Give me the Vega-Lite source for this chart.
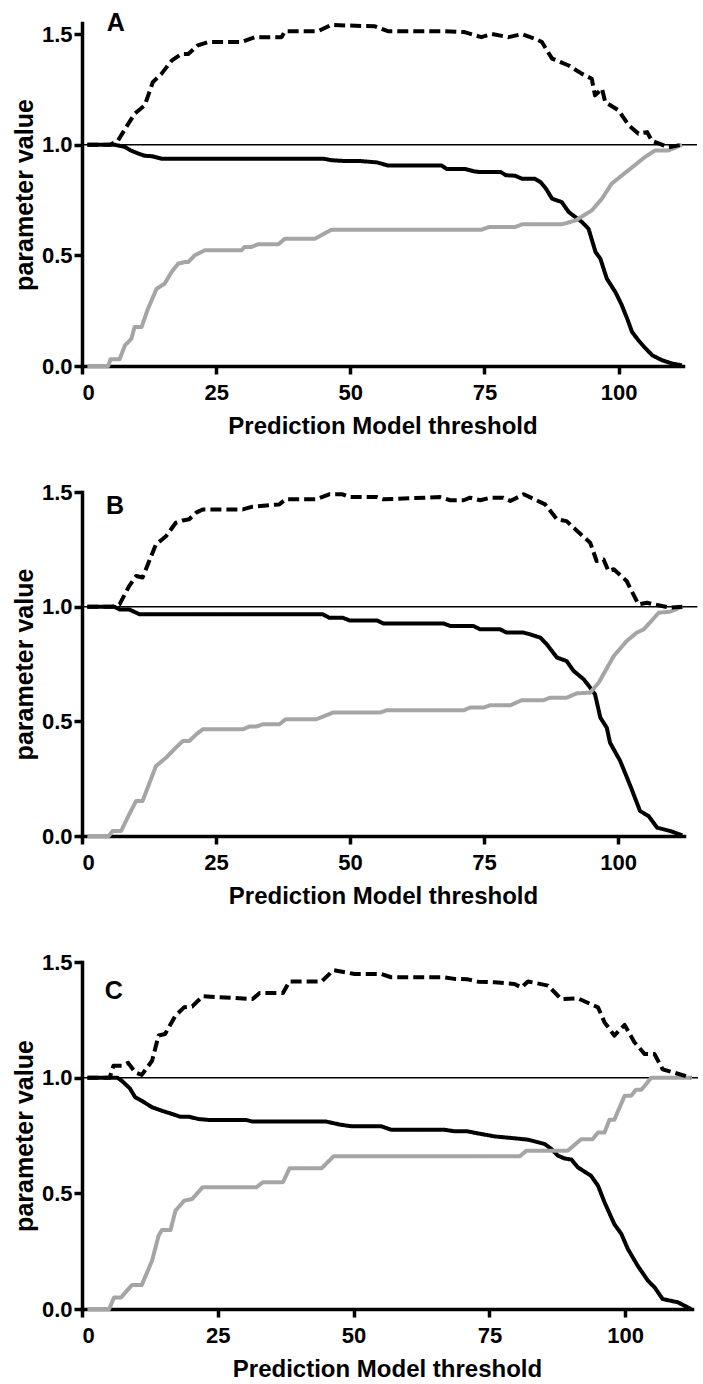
{
  "$schema": "https://vega.github.io/schema/vega-lite/v6.json",
  "background": "white",
  "padding": {"left": 12, "top": 10, "right": 0, "bottom": 0},
  "spacing": 126,
  "bounds": "flush",
  "datasets": {
    "lines": [
      {"p":"A","s":"sensitivity","x":1,"y":1},{"p":"A","s":"sensitivity","x":6,"y":1},{"p":"A","s":"sensitivity","x":7,"y":0.995},{"p":"A","s":"sensitivity","x":8,"y":0.99},{"p":"A","s":"sensitivity","x":9,"y":0.975},{"p":"A","s":"sensitivity","x":10.5,"y":0.96},{"p":"A","s":"sensitivity","x":11.7,"y":0.95},{"p":"A","s":"sensitivity","x":13,"y":0.948},{"p":"A","s":"sensitivity","x":14.8,"y":0.937},{"p":"A","s":"sensitivity","x":45,"y":0.937},{"p":"A","s":"sensitivity","x":46.5,"y":0.93},{"p":"A","s":"sensitivity","x":49,"y":0.926},{"p":"A","s":"sensitivity","x":52,"y":0.926},{"p":"A","s":"sensitivity","x":55,"y":0.92},{"p":"A","s":"sensitivity","x":57,"y":0.906},{"p":"A","s":"sensitivity","x":67,"y":0.906},{"p":"A","s":"sensitivity","x":68,"y":0.89},{"p":"A","s":"sensitivity","x":71.4,"y":0.89},{"p":"A","s":"sensitivity","x":73,"y":0.88},{"p":"A","s":"sensitivity","x":74,"y":0.877},{"p":"A","s":"sensitivity","x":78,"y":0.877},{"p":"A","s":"sensitivity","x":79,"y":0.862},{"p":"A","s":"sensitivity","x":80.7,"y":0.86},{"p":"A","s":"sensitivity","x":82,"y":0.846},{"p":"A","s":"sensitivity","x":84.4,"y":0.846},{"p":"A","s":"sensitivity","x":85.5,"y":0.83},{"p":"A","s":"sensitivity","x":86.5,"y":0.8},{"p":"A","s":"sensitivity","x":87.6,"y":0.756},{"p":"A","s":"sensitivity","x":89.4,"y":0.741},{"p":"A","s":"sensitivity","x":90.7,"y":0.696},{"p":"A","s":"sensitivity","x":93.2,"y":0.65},{"p":"A","s":"sensitivity","x":94.4,"y":0.62},{"p":"A","s":"sensitivity","x":95.7,"y":0.515},{"p":"A","s":"sensitivity","x":96.6,"y":0.485},{"p":"A","s":"sensitivity","x":97.8,"y":0.395},{"p":"A","s":"sensitivity","x":99.4,"y":0.334},{"p":"A","s":"sensitivity","x":100.5,"y":0.28},{"p":"A","s":"sensitivity","x":101.6,"y":0.214},{"p":"A","s":"sensitivity","x":102.5,"y":0.154},{"p":"A","s":"sensitivity","x":103.7,"y":0.116},{"p":"A","s":"sensitivity","x":105,"y":0.08},{"p":"A","s":"sensitivity","x":106.3,"y":0.048},{"p":"A","s":"sensitivity","x":108.1,"y":0.026},{"p":"A","s":"sensitivity","x":110,"y":0.011},{"p":"A","s":"sensitivity","x":111.8,"y":0.003},
      {"p":"A","s":"specificity","x":1,"y":0},{"p":"A","s":"specificity","x":4.9,"y":0},{"p":"A","s":"specificity","x":5.3,"y":0.03},{"p":"A","s":"specificity","x":7,"y":0.03},{"p":"A","s":"specificity","x":8,"y":0.093},{"p":"A","s":"specificity","x":9.2,"y":0.123},{"p":"A","s":"specificity","x":9.8,"y":0.176},{"p":"A","s":"specificity","x":11.1,"y":0.176},{"p":"A","s":"specificity","x":12.3,"y":0.259},{"p":"A","s":"specificity","x":13.9,"y":0.349},{"p":"A","s":"specificity","x":15.4,"y":0.372},{"p":"A","s":"specificity","x":16.7,"y":0.425},{"p":"A","s":"specificity","x":17.9,"y":0.462},{"p":"A","s":"specificity","x":19.2,"y":0.47},{"p":"A","s":"specificity","x":19.8,"y":0.47},{"p":"A","s":"specificity","x":21,"y":0.5},{"p":"A","s":"specificity","x":22.9,"y":0.523},{"p":"A","s":"specificity","x":29.7,"y":0.523},{"p":"A","s":"specificity","x":30.3,"y":0.538},{"p":"A","s":"specificity","x":31.6,"y":0.538},{"p":"A","s":"specificity","x":32.8,"y":0.55},{"p":"A","s":"specificity","x":36.6,"y":0.55},{"p":"A","s":"specificity","x":37.8,"y":0.575},{"p":"A","s":"specificity","x":43.4,"y":0.575},{"p":"A","s":"specificity","x":46.5,"y":0.616},{"p":"A","s":"specificity","x":74.5,"y":0.616},{"p":"A","s":"specificity","x":75.8,"y":0.628},{"p":"A","s":"specificity","x":80.7,"y":0.628},{"p":"A","s":"specificity","x":82,"y":0.64},{"p":"A","s":"specificity","x":89.4,"y":0.64},{"p":"A","s":"specificity","x":92,"y":0.658},{"p":"A","s":"specificity","x":95,"y":0.703},{"p":"A","s":"specificity","x":96.9,"y":0.756},{"p":"A","s":"specificity","x":98.7,"y":0.824},{"p":"A","s":"specificity","x":100.6,"y":0.861},{"p":"A","s":"specificity","x":103,"y":0.907},{"p":"A","s":"specificity","x":104.9,"y":0.944},{"p":"A","s":"specificity","x":106.8,"y":0.974},{"p":"A","s":"specificity","x":109.3,"y":0.974},{"p":"A","s":"specificity","x":111.8,"y":1.0},
      {"p":"A","s":"sum","x":1,"y":1},{"p":"A","s":"sum","x":5.2,"y":1.0},{"p":"A","s":"sum","x":6.7,"y":1.018},{"p":"A","s":"sum","x":8,"y":1.07},{"p":"A","s":"sum","x":9.8,"y":1.14},{"p":"A","s":"sum","x":11.7,"y":1.178},{"p":"A","s":"sum","x":13.2,"y":1.283},{"p":"A","s":"sum","x":14.8,"y":1.32},{"p":"A","s":"sum","x":16.7,"y":1.38},{"p":"A","s":"sum","x":18.5,"y":1.41},{"p":"A","s":"sum","x":19.8,"y":1.41},{"p":"A","s":"sum","x":21.6,"y":1.449},{"p":"A","s":"sum","x":23.5,"y":1.464},{"p":"A","s":"sum","x":29.7,"y":1.464},{"p":"A","s":"sum","x":32.2,"y":1.486},{"p":"A","s":"sum","x":37.2,"y":1.486},{"p":"A","s":"sum","x":37.8,"y":1.513},{"p":"A","s":"sum","x":44,"y":1.513},{"p":"A","s":"sum","x":46.5,"y":1.542},{"p":"A","s":"sum","x":49,"y":1.539},{"p":"A","s":"sum","x":54.6,"y":1.535},{"p":"A","s":"sum","x":57,"y":1.513},{"p":"A","s":"sum","x":67.6,"y":1.513},{"p":"A","s":"sum","x":71.3,"y":1.509},{"p":"A","s":"sum","x":74.4,"y":1.486},{"p":"A","s":"sum","x":76.4,"y":1.5},{"p":"A","s":"sum","x":79.5,"y":1.486},{"p":"A","s":"sum","x":82,"y":1.5},{"p":"A","s":"sum","x":84.4,"y":1.479},{"p":"A","s":"sum","x":85.7,"y":1.464},{"p":"A","s":"sum","x":87.6,"y":1.389},{"p":"A","s":"sum","x":90.7,"y":1.358},{"p":"A","s":"sum","x":93.2,"y":1.32},{"p":"A","s":"sum","x":95,"y":1.298},{"p":"A","s":"sum","x":95.6,"y":1.223},{"p":"A","s":"sum","x":96.9,"y":1.253},{"p":"A","s":"sum","x":97.5,"y":1.193},{"p":"A","s":"sum","x":100,"y":1.155},{"p":"A","s":"sum","x":101.9,"y":1.087},{"p":"A","s":"sum","x":103.7,"y":1.05},{"p":"A","s":"sum","x":105.3,"y":1.057},{"p":"A","s":"sum","x":106.2,"y":1.018},{"p":"A","s":"sum","x":109.3,"y":0.988},{"p":"A","s":"sum","x":111.8,"y":1.0},

      {"p":"B","s":"sensitivity","x":1,"y":1},{"p":"B","s":"sensitivity","x":6,"y":1},{"p":"B","s":"sensitivity","x":7,"y":0.988},{"p":"B","s":"sensitivity","x":8.8,"y":0.988},{"p":"B","s":"sensitivity","x":10.7,"y":0.967},{"p":"B","s":"sensitivity","x":44.9,"y":0.967},{"p":"B","s":"sensitivity","x":46.1,"y":0.952},{"p":"B","s":"sensitivity","x":48.6,"y":0.952},{"p":"B","s":"sensitivity","x":49.9,"y":0.94},{"p":"B","s":"sensitivity","x":55,"y":0.94},{"p":"B","s":"sensitivity","x":56.2,"y":0.927},{"p":"B","s":"sensitivity","x":67.4,"y":0.927},{"p":"B","s":"sensitivity","x":68.7,"y":0.916},{"p":"B","s":"sensitivity","x":73,"y":0.916},{"p":"B","s":"sensitivity","x":74.3,"y":0.901},{"p":"B","s":"sensitivity","x":78,"y":0.901},{"p":"B","s":"sensitivity","x":79.2,"y":0.887},{"p":"B","s":"sensitivity","x":82.4,"y":0.887},{"p":"B","s":"sensitivity","x":83.6,"y":0.879},{"p":"B","s":"sensitivity","x":85.5,"y":0.865},{"p":"B","s":"sensitivity","x":86.7,"y":0.836},{"p":"B","s":"sensitivity","x":88.6,"y":0.778},{"p":"B","s":"sensitivity","x":90.4,"y":0.763},{"p":"B","s":"sensitivity","x":91.7,"y":0.72},{"p":"B","s":"sensitivity","x":93.6,"y":0.683},{"p":"B","s":"sensitivity","x":94.8,"y":0.647},{"p":"B","s":"sensitivity","x":95.7,"y":0.618},{"p":"B","s":"sensitivity","x":96.7,"y":0.516},{"p":"B","s":"sensitivity","x":97.9,"y":0.472},{"p":"B","s":"sensitivity","x":98.5,"y":0.407},{"p":"B","s":"sensitivity","x":100.4,"y":0.327},{"p":"B","s":"sensitivity","x":102.3,"y":0.218},{"p":"B","s":"sensitivity","x":104.1,"y":0.109},{"p":"B","s":"sensitivity","x":105.7,"y":0.087},{"p":"B","s":"sensitivity","x":107.3,"y":0.036},{"p":"B","s":"sensitivity","x":109.7,"y":0.022},{"p":"B","s":"sensitivity","x":112,"y":0.003},
      {"p":"B","s":"specificity","x":1,"y":0},{"p":"B","s":"specificity","x":5,"y":0},{"p":"B","s":"specificity","x":5.7,"y":0.022},{"p":"B","s":"specificity","x":7.3,"y":0.022},{"p":"B","s":"specificity","x":8.8,"y":0.094},{"p":"B","s":"specificity","x":10.1,"y":0.153},{"p":"B","s":"specificity","x":11.3,"y":0.153},{"p":"B","s":"specificity","x":13.8,"y":0.305},{"p":"B","s":"specificity","x":15.7,"y":0.342},{"p":"B","s":"specificity","x":17.5,"y":0.385},{"p":"B","s":"specificity","x":18.8,"y":0.414},{"p":"B","s":"specificity","x":20,"y":0.414},{"p":"B","s":"specificity","x":21.3,"y":0.443},{"p":"B","s":"specificity","x":22.5,"y":0.465},{"p":"B","s":"specificity","x":30,"y":0.465},{"p":"B","s":"specificity","x":31.2,"y":0.477},{"p":"B","s":"specificity","x":32.5,"y":0.477},{"p":"B","s":"specificity","x":33.7,"y":0.487},{"p":"B","s":"specificity","x":36.8,"y":0.487},{"p":"B","s":"specificity","x":38,"y":0.509},{"p":"B","s":"specificity","x":43.7,"y":0.509},{"p":"B","s":"specificity","x":46.8,"y":0.538},{"p":"B","s":"specificity","x":55.6,"y":0.538},{"p":"B","s":"specificity","x":56.8,"y":0.548},{"p":"B","s":"specificity","x":71.2,"y":0.548},{"p":"B","s":"specificity","x":72.4,"y":0.56},{"p":"B","s":"specificity","x":74.9,"y":0.56},{"p":"B","s":"specificity","x":76.1,"y":0.57},{"p":"B","s":"specificity","x":79.9,"y":0.57},{"p":"B","s":"specificity","x":82,"y":0.592},{"p":"B","s":"specificity","x":86.1,"y":0.592},{"p":"B","s":"specificity","x":87.3,"y":0.603},{"p":"B","s":"specificity","x":90.4,"y":0.603},{"p":"B","s":"specificity","x":92.3,"y":0.622},{"p":"B","s":"specificity","x":94.8,"y":0.625},{"p":"B","s":"specificity","x":96.4,"y":0.669},{"p":"B","s":"specificity","x":99.2,"y":0.785},{"p":"B","s":"specificity","x":101.6,"y":0.85},{"p":"B","s":"specificity","x":103.5,"y":0.887},{"p":"B","s":"specificity","x":104.8,"y":0.901},{"p":"B","s":"specificity","x":107.6,"y":0.974},{"p":"B","s":"specificity","x":109.7,"y":0.978},{"p":"B","s":"specificity","x":112,"y":1.0},
      {"p":"B","s":"sum","x":1,"y":1},{"p":"B","s":"sum","x":5.7,"y":1.0},{"p":"B","s":"sum","x":7,"y":1.01},{"p":"B","s":"sum","x":8.8,"y":1.09},{"p":"B","s":"sum","x":10.1,"y":1.134},{"p":"B","s":"sum","x":11.3,"y":1.127},{"p":"B","s":"sum","x":13.8,"y":1.272},{"p":"B","s":"sum","x":15,"y":1.294},{"p":"B","s":"sum","x":15.7,"y":1.308},{"p":"B","s":"sum","x":17.5,"y":1.366},{"p":"B","s":"sum","x":18.8,"y":1.376},{"p":"B","s":"sum","x":20,"y":1.381},{"p":"B","s":"sum","x":21.3,"y":1.41},{"p":"B","s":"sum","x":22.5,"y":1.424},{"p":"B","s":"sum","x":30,"y":1.424},{"p":"B","s":"sum","x":31.8,"y":1.436},{"p":"B","s":"sum","x":36.8,"y":1.446},{"p":"B","s":"sum","x":38,"y":1.468},{"p":"B","s":"sum","x":43.7,"y":1.468},{"p":"B","s":"sum","x":46.1,"y":1.49},{"p":"B","s":"sum","x":48.6,"y":1.49},{"p":"B","s":"sum","x":49.9,"y":1.478},{"p":"B","s":"sum","x":55,"y":1.478},{"p":"B","s":"sum","x":56.2,"y":1.468},{"p":"B","s":"sum","x":66.8,"y":1.478},{"p":"B","s":"sum","x":68.7,"y":1.464},{"p":"B","s":"sum","x":71.2,"y":1.464},{"p":"B","s":"sum","x":72.4,"y":1.475},{"p":"B","s":"sum","x":74.3,"y":1.464},{"p":"B","s":"sum","x":76.1,"y":1.475},{"p":"B","s":"sum","x":78.6,"y":1.475},{"p":"B","s":"sum","x":79.9,"y":1.461},{"p":"B","s":"sum","x":82.4,"y":1.49},{"p":"B","s":"sum","x":84.8,"y":1.464},{"p":"B","s":"sum","x":86.4,"y":1.446},{"p":"B","s":"sum","x":88.6,"y":1.381},{"p":"B","s":"sum","x":90.4,"y":1.373},{"p":"B","s":"sum","x":91.7,"y":1.344},{"p":"B","s":"sum","x":94.8,"y":1.279},{"p":"B","s":"sum","x":96,"y":1.199},{"p":"B","s":"sum","x":97.3,"y":1.206},{"p":"B","s":"sum","x":98.2,"y":1.156},{"p":"B","s":"sum","x":99.2,"y":1.163},{"p":"B","s":"sum","x":101.6,"y":1.112},{"p":"B","s":"sum","x":103.8,"y":1.01},{"p":"B","s":"sum","x":105.4,"y":1.017},{"p":"B","s":"sum","x":107.3,"y":1.007},{"p":"B","s":"sum","x":109.7,"y":0.996},{"p":"B","s":"sum","x":112,"y":1.0},

      {"p":"C","s":"sensitivity","x":1,"y":1},{"p":"C","s":"sensitivity","x":6.5,"y":1},{"p":"C","s":"sensitivity","x":7.3,"y":0.987},{"p":"C","s":"sensitivity","x":8.8,"y":0.954},{"p":"C","s":"sensitivity","x":9.8,"y":0.915},{"p":"C","s":"sensitivity","x":11,"y":0.9},{"p":"C","s":"sensitivity","x":12.9,"y":0.872},{"p":"C","s":"sensitivity","x":14.7,"y":0.857},{"p":"C","s":"sensitivity","x":16.6,"y":0.843},{"p":"C","s":"sensitivity","x":18.1,"y":0.831},{"p":"C","s":"sensitivity","x":19.7,"y":0.831},{"p":"C","s":"sensitivity","x":21.5,"y":0.821},{"p":"C","s":"sensitivity","x":23.4,"y":0.817},{"p":"C","s":"sensitivity","x":30.2,"y":0.817},{"p":"C","s":"sensitivity","x":31.4,"y":0.81},{"p":"C","s":"sensitivity","x":45,"y":0.81},{"p":"C","s":"sensitivity","x":47.5,"y":0.797},{"p":"C","s":"sensitivity","x":49.6,"y":0.79},{"p":"C","s":"sensitivity","x":55.1,"y":0.79},{"p":"C","s":"sensitivity","x":56.9,"y":0.775},{"p":"C","s":"sensitivity","x":66.7,"y":0.775},{"p":"C","s":"sensitivity","x":68.6,"y":0.768},{"p":"C","s":"sensitivity","x":71,"y":0.768},{"p":"C","s":"sensitivity","x":72.9,"y":0.759},{"p":"C","s":"sensitivity","x":76,"y":0.746},{"p":"C","s":"sensitivity","x":79.6,"y":0.738},{"p":"C","s":"sensitivity","x":82.1,"y":0.732},{"p":"C","s":"sensitivity","x":85.2,"y":0.713},{"p":"C","s":"sensitivity","x":86.4,"y":0.692},{"p":"C","s":"sensitivity","x":87.6,"y":0.663},{"p":"C","s":"sensitivity","x":88.8,"y":0.651},{"p":"C","s":"sensitivity","x":90.1,"y":0.646},{"p":"C","s":"sensitivity","x":91.3,"y":0.612},{"p":"C","s":"sensitivity","x":93.7,"y":0.576},{"p":"C","s":"sensitivity","x":95,"y":0.533},{"p":"C","s":"sensitivity","x":96.2,"y":0.461},{"p":"C","s":"sensitivity","x":98,"y":0.367},{"p":"C","s":"sensitivity","x":99.3,"y":0.324},{"p":"C","s":"sensitivity","x":100.5,"y":0.259},{"p":"C","s":"sensitivity","x":102.3,"y":0.187},{"p":"C","s":"sensitivity","x":104.2,"y":0.122},{"p":"C","s":"sensitivity","x":105.4,"y":0.094},{"p":"C","s":"sensitivity","x":106.9,"y":0.043},{"p":"C","s":"sensitivity","x":109.7,"y":0.029},{"p":"C","s":"sensitivity","x":112.1,"y":0.0},
      {"p":"C","s":"specificity","x":1,"y":0},{"p":"C","s":"specificity","x":5,"y":0},{"p":"C","s":"specificity","x":5.9,"y":0.05},{"p":"C","s":"specificity","x":7.2,"y":0.05},{"p":"C","s":"specificity","x":9.2,"y":0.104},{"p":"C","s":"specificity","x":11,"y":0.104},{"p":"C","s":"specificity","x":12.9,"y":0.209},{"p":"C","s":"specificity","x":14.1,"y":0.317},{"p":"C","s":"specificity","x":14.7,"y":0.341},{"p":"C","s":"specificity","x":16.3,"y":0.341},{"p":"C","s":"specificity","x":17.2,"y":0.425},{"p":"C","s":"specificity","x":18.8,"y":0.468},{"p":"C","s":"specificity","x":20.3,"y":0.476},{"p":"C","s":"specificity","x":22.2,"y":0.526},{"p":"C","s":"specificity","x":32.1,"y":0.526},{"p":"C","s":"specificity","x":33.3,"y":0.548},{"p":"C","s":"specificity","x":37,"y":0.548},{"p":"C","s":"specificity","x":38.2,"y":0.608},{"p":"C","s":"specificity","x":44.1,"y":0.608},{"p":"C","s":"specificity","x":46.3,"y":0.66},{"p":"C","s":"specificity","x":80.6,"y":0.66},{"p":"C","s":"specificity","x":81.8,"y":0.684},{"p":"C","s":"specificity","x":89.4,"y":0.684},{"p":"C","s":"specificity","x":91.9,"y":0.734},{"p":"C","s":"specificity","x":94,"y":0.734},{"p":"C","s":"specificity","x":95,"y":0.763},{"p":"C","s":"specificity","x":96.2,"y":0.763},{"p":"C","s":"specificity","x":97.1,"y":0.818},{"p":"C","s":"specificity","x":98,"y":0.818},{"p":"C","s":"specificity","x":99.9,"y":0.922},{"p":"C","s":"specificity","x":101.1,"y":0.922},{"p":"C","s":"specificity","x":102,"y":0.948},{"p":"C","s":"specificity","x":103,"y":0.948},{"p":"C","s":"specificity","x":104.8,"y":1.0},{"p":"C","s":"specificity","x":112.3,"y":1.0},
      {"p":"C","s":"sum","x":1,"y":1},{"p":"C","s":"sum","x":5.1,"y":1.0},{"p":"C","s":"sum","x":5.8,"y":1.052},{"p":"C","s":"sum","x":7.3,"y":1.052},{"p":"C","s":"sum","x":8.5,"y":1.064},{"p":"C","s":"sum","x":9.8,"y":1.023},{"p":"C","s":"sum","x":11,"y":1.012},{"p":"C","s":"sum","x":12.9,"y":1.073},{"p":"C","s":"sum","x":14.1,"y":1.182},{"p":"C","s":"sum","x":15.3,"y":1.189},{"p":"C","s":"sum","x":17.2,"y":1.268},{"p":"C","s":"sum","x":18.8,"y":1.304},{"p":"C","s":"sum","x":20.3,"y":1.308},{"p":"C","s":"sum","x":22.2,"y":1.352},{"p":"C","s":"sum","x":31.4,"y":1.34},{"p":"C","s":"sum","x":32.7,"y":1.366},{"p":"C","s":"sum","x":37,"y":1.366},{"p":"C","s":"sum","x":38.2,"y":1.416},{"p":"C","s":"sum","x":44.1,"y":1.416},{"p":"C","s":"sum","x":46.3,"y":1.465},{"p":"C","s":"sum","x":50.2,"y":1.448},{"p":"C","s":"sum","x":55.1,"y":1.448},{"p":"C","s":"sum","x":56.9,"y":1.434},{"p":"C","s":"sum","x":66.7,"y":1.434},{"p":"C","s":"sum","x":68.6,"y":1.427},{"p":"C","s":"sum","x":71,"y":1.425},{"p":"C","s":"sum","x":72.9,"y":1.415},{"p":"C","s":"sum","x":76,"y":1.412},{"p":"C","s":"sum","x":79.6,"y":1.405},{"p":"C","s":"sum","x":80.9,"y":1.39},{"p":"C","s":"sum","x":82.1,"y":1.416},{"p":"C","s":"sum","x":85.8,"y":1.398},{"p":"C","s":"sum","x":88.2,"y":1.34},{"p":"C","s":"sum","x":91.3,"y":1.343},{"p":"C","s":"sum","x":95,"y":1.304},{"p":"C","s":"sum","x":96.2,"y":1.239},{"p":"C","s":"sum","x":98,"y":1.182},{"p":"C","s":"sum","x":99.9,"y":1.228},{"p":"C","s":"sum","x":101.7,"y":1.153},{"p":"C","s":"sum","x":103.6,"y":1.102},{"p":"C","s":"sum","x":105.4,"y":1.102},{"p":"C","s":"sum","x":106.9,"y":1.036},{"p":"C","s":"sum","x":109.7,"y":1.017},{"p":"C","s":"sum","x":112.1,"y":1.0}
    ],
    "refs": [
      {"p":"A","x":0,"x2":114.6,"y":1},
      {"p":"B","x":0,"x2":114.8,"y":1},
      {"p":"C","x":0,"x2":113.4,"y":1}
    ],
    "labels": [
      {"p":"A","x":4.6,"y":1.515,"label":"A"},
      {"p":"B","x":4.5,"y":1.402,"label":"B"},
      {"p":"C","x":4.2,"y":1.339,"label":"C"}
    ]
  },
  "vconcat": [
    {
      "width": 601, "height": 343,
      "layer": [
        {"data": {"name": "refs"}, "transform": [{"filter": "datum.p === 'A'"}], "mark": {"type": "rule", "color": "black", "strokeWidth": 1.5},
         "encoding": {"x": {"field": "x", "type": "quantitative", "scale": {"domain": [0, 112], "nice": false, "zero": false}, "axis": {"values": [0, 25, 50, 75, 100], "title": "Prediction Model threshold"}}, "x2": {"field": "x2"}, "y": {"field": "y", "type": "quantitative", "scale": {"domain": [0, 1.55], "nice": false}, "axis": {"values": [0, 0.5, 1, 1.5], "format": ".1f", "title": "parameter value"}}}},
        {"data": {"name": "lines"}, "transform": [{"filter": "datum.p === 'A'"}], "mark": {"type": "line", "strokeJoin": "round", "strokeCap": "butt"},
         "encoding": {"x": {"field": "x", "type": "quantitative"}, "y": {"field": "y", "type": "quantitative"},
           "color": {"field": "s", "type": "nominal", "scale": {"domain": ["specificity", "sensitivity", "sum"], "range": ["#a5a5a5", "#000000", "#000000"]}, "legend": null},
           "strokeDash": {"field": "s", "type": "nominal", "scale": {"domain": ["specificity", "sensitivity", "sum"], "range": [[1, 0], [1, 0], [11, 5]]}, "legend": null},
           "strokeWidth": {"field": "s", "type": "nominal", "scale": {"domain": ["specificity", "sensitivity", "sum"], "range": [4, 4, 3]}, "legend": null}}},
        {"data": {"name": "labels"}, "transform": [{"filter": "datum.p === 'A'"}], "mark": {"type": "text", "align": "left", "baseline": "alphabetic", "font": "Liberation Sans", "fontWeight": "bold", "fontSize": 25, "color": "black"},
         "encoding": {"x": {"field": "x", "type": "quantitative"}, "y": {"field": "y", "type": "quantitative"}, "text": {"field": "label"}}}
      ]
    },
    {
      "width": 602, "height": 344,
      "layer": [
        {"data": {"name": "refs"}, "transform": [{"filter": "datum.p === 'B'"}], "mark": {"type": "rule", "color": "black", "strokeWidth": 1.5},
         "encoding": {"x": {"field": "x", "type": "quantitative", "scale": {"domain": [0, 112.3], "nice": false, "zero": false}, "axis": {"values": [0, 25, 50, 75, 100], "title": "Prediction Model threshold"}}, "x2": {"field": "x2"}, "y": {"field": "y", "type": "quantitative", "scale": {"domain": [0, 1.5], "nice": false}, "axis": {"values": [0, 0.5, 1, 1.5], "format": ".1f", "title": "parameter value"}}}},
        {"data": {"name": "lines"}, "transform": [{"filter": "datum.p === 'B'"}], "mark": {"type": "line", "strokeJoin": "round", "strokeCap": "butt"},
         "encoding": {"x": {"field": "x", "type": "quantitative"}, "y": {"field": "y", "type": "quantitative"},
           "color": {"field": "s", "type": "nominal", "scale": {"domain": ["specificity", "sensitivity", "sum"], "range": ["#a5a5a5", "#000000", "#000000"]}, "legend": null},
           "strokeDash": {"field": "s", "type": "nominal", "scale": {"domain": ["specificity", "sensitivity", "sum"], "range": [[1, 0], [1, 0], [11, 5]]}, "legend": null},
           "strokeWidth": {"field": "s", "type": "nominal", "scale": {"domain": ["specificity", "sensitivity", "sum"], "range": [4, 4, 3]}, "legend": null}}},
        {"data": {"name": "labels"}, "transform": [{"filter": "datum.p === 'B'"}], "mark": {"type": "text", "align": "left", "baseline": "alphabetic", "font": "Liberation Sans", "fontWeight": "bold", "fontSize": 25, "color": "black"},
         "encoding": {"x": {"field": "x", "type": "quantitative"}, "y": {"field": "y", "type": "quantitative"}, "text": {"field": "label"}}}
      ]
    },
    {
      "width": 610, "height": 347,
      "layer": [
        {"data": {"name": "refs"}, "transform": [{"filter": "datum.p === 'C'"}], "mark": {"type": "rule", "color": "black", "strokeWidth": 1.5},
         "encoding": {"x": {"field": "x", "type": "quantitative", "scale": {"domain": [0, 112.3], "nice": false, "zero": false}, "axis": {"values": [0, 25, 50, 75, 100], "title": "Prediction Model threshold"}}, "x2": {"field": "x2"}, "y": {"field": "y", "type": "quantitative", "scale": {"domain": [0, 1.5], "nice": false}, "axis": {"values": [0, 0.5, 1, 1.5], "format": ".1f", "title": "parameter value"}}}},
        {"data": {"name": "lines"}, "transform": [{"filter": "datum.p === 'C'"}], "mark": {"type": "line", "strokeJoin": "round", "strokeCap": "butt"},
         "encoding": {"x": {"field": "x", "type": "quantitative"}, "y": {"field": "y", "type": "quantitative"},
           "color": {"field": "s", "type": "nominal", "scale": {"domain": ["specificity", "sensitivity", "sum"], "range": ["#a5a5a5", "#000000", "#000000"]}, "legend": null},
           "strokeDash": {"field": "s", "type": "nominal", "scale": {"domain": ["specificity", "sensitivity", "sum"], "range": [[1, 0], [1, 0], [11, 5]]}, "legend": null},
           "strokeWidth": {"field": "s", "type": "nominal", "scale": {"domain": ["specificity", "sensitivity", "sum"], "range": [4, 4, 3]}, "legend": null}}},
        {"data": {"name": "labels"}, "transform": [{"filter": "datum.p === 'C'"}], "mark": {"type": "text", "align": "left", "baseline": "alphabetic", "font": "Liberation Sans", "fontWeight": "bold", "fontSize": 25, "color": "black"},
         "encoding": {"x": {"field": "x", "type": "quantitative"}, "y": {"field": "y", "type": "quantitative"}, "text": {"field": "label"}}}
      ]
    }
  ],
  "config": {
    "view": {"stroke": null},
    "axis": {
      "grid": false,
      "domainColor": "black", "domainWidth": 3.5, "domainCap": "square",
      "tickColor": "black", "tickWidth": 3.5, "tickSize": 8,
      "labelFont": "Liberation Sans", "labelFontWeight": "bold", "labelFontSize": 22, "labelColor": "black",
      "titleFont": "Liberation Sans", "titleFontWeight": "bold", "titleColor": "black"
    },
    "axisX": {"labelPadding": 8, "titlePadding": 11, "titleFontSize": 24},
    "axisY": {"labelPadding": 2, "titlePadding": 4, "titleFontSize": 25}
  }
}
